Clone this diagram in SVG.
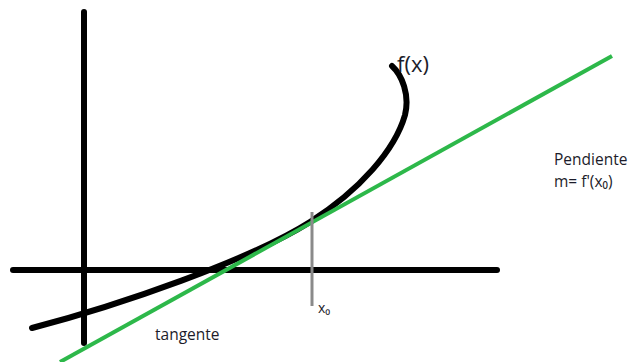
<svg xmlns="http://www.w3.org/2000/svg" width="632" height="362" viewBox="0 0 632 362">
<style>
.ax{stroke:#000;stroke-width:6;stroke-linecap:round;fill:none}
.crv{stroke:#000;stroke-width:6;stroke-linecap:round;fill:none}
.tan{stroke:#2db84a;stroke-width:4;fill:none}
.mk{stroke:#8a8a8a;stroke-width:3;fill:none}
.t{font-family:"Open Sans","Noto Sans","Liberation Sans",sans-serif;fill:#1c1c2a}
</style>
<rect width="632" height="362" fill="#fff"/>
<g id="axes">
<line class="ax" x1="84" y1="12" x2="84" y2="343"/>
<line class="ax" x1="13" y1="270" x2="497" y2="270"/>
</g>
<g id="curve">
<path class="crv" d="M32,328 C120,305 250,260 310,222 C360,190 395,150 405,115 C410,95 402,75 392,66"/>
<text class="t" x="397" y="72" font-size="22">f(x)</text>
</g>
<g id="connectors">
<line class="tan" x1="60" y1="362" x2="612" y2="56"/>
<line class="mk" x1="312" y1="212" x2="312" y2="306"/>
</g>
<g id="labels">
<text class="t" x="318" y="313" font-size="14">x₀</text>
<text class="t" x="155" y="340" font-size="15.5">tangente</text>
<text class="t" x="554" y="165" font-size="15.5">Pendiente</text>
<text class="t" x="554" y="187" font-size="15.5">m= f'(x₀)</text>
</g>
</svg>
